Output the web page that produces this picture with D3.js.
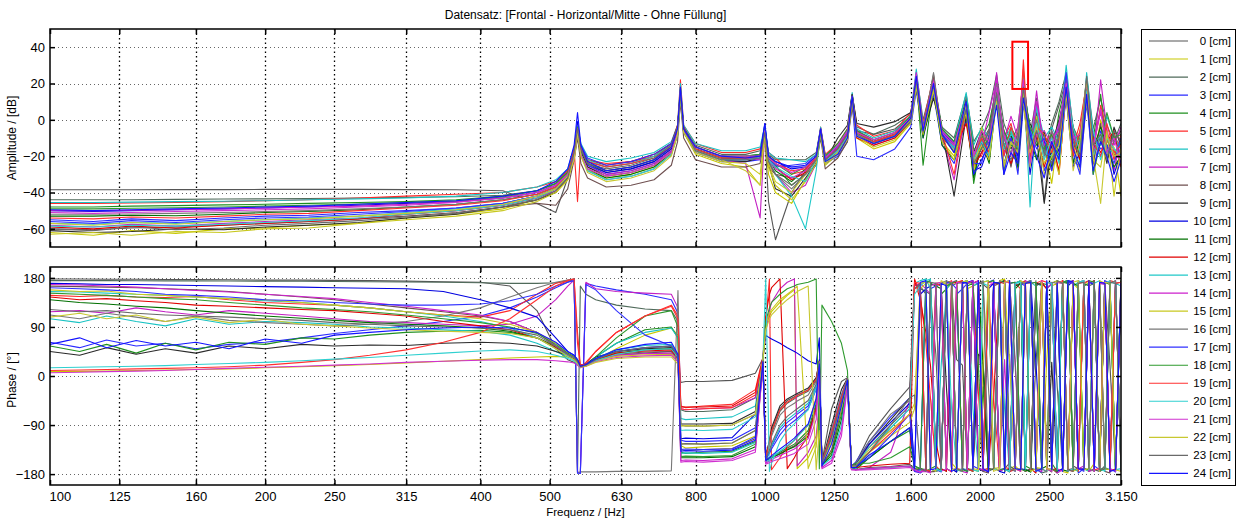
<!DOCTYPE html>
<html>
<head>
<meta charset="utf-8">
<script src="https://cdn.jsdelivr.net/npm/d3@7"></script>
<style>
    body { margin: 0; background: #fff; }
    text { font-family: "Liberation Sans", Arial, Helvetica, sans-serif; fill: #000; }
</style>
</head>
<body>
<div id="chart"></div>
<script>
// ---- labels / colours ----
const chartTitle = "Datensatz: [Frontal - Horizontal/Mitte - Ohne Füllung]";
const seriesLabels = ["0 [cm]","1 [cm]","2 [cm]","3 [cm]","4 [cm]","5 [cm]","6 [cm]","7 [cm]","8 [cm]","9 [cm]",
    "10 [cm]","11 [cm]","12 [cm]","13 [cm]","14 [cm]","15 [cm]","16 [cm]","17 [cm]","18 [cm]","19 [cm]",
    "20 [cm]","21 [cm]","22 [cm]","23 [cm]","24 [cm]"];
const seriesColors = ["#555555","#c8c800","#4f6a5a","#2a2aff","#1f8f1f","#ff2a2a","#19c3c3","#c31fc3","#6e4f4f","#2a2a2a",
    "#0000e0","#007000","#e00000","#20c8c8","#cc20cc","#c8c820","#777777","#3030ff","#2e9a2e","#ff3030",
    "#30d0d0","#d030d0","#c8c830","#6a6a6a","#1414ff"];

const xTicks = [100,125,160,200,250,315,400,500,630,800,1000,1250,1600,2000,2500,3150];
const xTickLabels = ["100","125","160","200","250","315","400","500","630","800","1000","1250","1.600","2000","2500","3.150"];
const ampTicks = [-60,-40,-20,0,20,40];
const phaseTicks = [-180,-90,0,90,180];
const highlightBox = [2220, 2335, 17, 43]; // f1, f2, dB low, dB high

// ---- amplitude (dB), frequency grid split in bands ----
const ampFreqLow = [100,115,130,150,175,200,230,270,315,370,430,480,510,530];
const ampFreqMid = [541,547,553,565,600,650,700,740,755,762,770];
const ampFreqHigh = [800,870,940,985,1000,1012,1035,1090,1140,1180,1197,1215,1265,1305,1325];
const ampFreqUpper = [1345,1420,1520,1600,1629,1665,1722,1770,1840,1913,1960];
const ampFreqTop = [2010,2060,2110,2160,2210,2260,2300,2350,2400,2460,2520,2580,2640,2700,2760,2820,2880,2950,3010,3080,3150];

const ampLow = [
    [-38.5,-38.5,-38.5,-38.4,-38.4,-38.3,-38.3,-38.3,-38.4,-38.5,-39,-46,-51,-32],
    [-62,-63.5,-61,-62.5,-60,-59.5,-58,-57,-54,-52,-49,-44,-40,-33],
    [-44,-44,-44,-43.8,-43.6,-43.5,-43.3,-43,-42.7,-42.3,-41.5,-39,-35,-28],
    [-55,-56,-54.5,-55.5,-54,-53,-52.5,-51,-50,-48.5,-46,-42,-38,-31],
    [-48,-48,-47.5,-47.2,-46.8,-46.5,-46,-45.5,-45,-44,-42,-39,-35,-29],
    [-46,-46,-45.8,-45.5,-45,-44.5,-44,-43,-42,-41,-40,-37,-34,-28],
    [-45.5,-45.5,-45.3,-45,-44.8,-44.5,-44,-43.5,-43,-42,-40,-37,-33,-27],
    [-58,-59,-57.5,-58.5,-57,-56,-55,-54,-52,-50,-47,-43,-39,-31],
    [-60,-60.5,-59.5,-59,-58,-57,-56,-54.5,-53,-51,-48,-46,-47,-38],
    [-61,-62,-61.5,-60,-60.5,-59,-58,-56.5,-54,-52,-48,-44,-40,-32],
    [-50,-50.5,-50,-49.5,-49,-48.5,-48,-47,-46,-45,-43,-40,-36,-30],
    [-53,-53,-52.5,-52.8,-52,-51,-50.5,-49.5,-48,-46.5,-44,-41,-37,-30],
    [-59,-60,-58.5,-59.5,-58,-57,-56,-54.5,-52,-50,-47,-43,-38,-31],
    [-57,-57.5,-56.5,-57,-56,-55,-54,-53,-51,-49,-46,-42,-38,-31],
    [-50,-50,-49.8,-49.5,-49,-48.6,-48,-47.5,-46.5,-45,-43,-40,-36,-30],
    [-63,-62,-63.5,-61.5,-62,-60,-59.5,-57,-55,-53,-50,-45,-40,-33],
    [-52,-52,-51.8,-51.5,-51,-50.5,-50,-49,-48,-46.5,-44,-41,-37,-30],
    [-56,-57,-55.5,-56.5,-55,-54,-53.5,-52,-50.5,-48.5,-46,-42,-38,-31],
    [-49,-49,-48.7,-48.4,-48,-47.5,-47,-46.3,-45.5,-44.5,-42.5,-39,-35,-29],
    [-54,-54.5,-53.5,-54,-53,-52,-51.5,-50,-48.5,-47,-44.5,-41,-37,-30],
    [-58.5,-59,-58,-58.5,-57.5,-56.5,-55.5,-54,-52,-50,-47,-43,-38,-31],
    [-51,-51.5,-51,-50.5,-50,-49.5,-49,-48,-47,-45.5,-43,-40,-36,-30],
    [-57,-58,-56.5,-57.5,-56,-55,-54.5,-53,-51.5,-49.5,-46.5,-42,-38,-31],
    [-60,-61,-59,-60.5,-59.5,-58,-57,-55.5,-53.5,-51.5,-48,-44,-39,-32],
    [-49.5,-50,-49.5,-49,-48.5,-48,-47.5,-46.5,-45.5,-44.5,-42,-39,-34,-27]
];
const ampMid = [
    [-18,-6,-16,-25,-29,-27,-23,-16,-6,16,-5],
    [-22,-9,-20,-28,-32,-30,-26,-19,-9,12,-7],
    [-17,-4,-15,-23,-26,-24,-20,-13,-4,18,-4],
    [-19,-2,-17,-25,-30,-28,-24,-17,-7,14,-6],
    [-18,-5,-17,-24,-28,-26,-22,-15,-5,17,-5],
    [-16,-45,-14,-22,-24,-23,-20,-14,-3,22,-3],
    [-15,-3,-13,-20,-23,-21,-18,-12,-3,20,-3],
    [-20,-7,-18,-26,-30,-28,-24,-17,-7,15,-6],
    [-22,-10,-24,-32,-37,-36,-33,-25,-12,10,-10],
    [-20,-6,-18,-26,-31,-29,-25,-18,-8,13,-7],
    [-18,-1,-16,-24,-29,-27,-23,-16,-6,16,-5],
    [-19,-5,-18,-27,-32,-30,-26,-18,-7,15,-6],
    [-17,-4,-15,-22,-25,-23,-19,-13,-3,14,-4],
    [-17,-3,-15,-22,-26,-24,-20,-14,-4,14,-5],
    [-18,-4,-16,-24,-28,-26,-22,-15,-5,16,-5],
    [-21,-8,-19,-27,-31,-29,-25,-18,-8,12,-7],
    [-20,-7,-19,-28,-33,-31,-27,-19,-8,15,-7],
    [-16,-3,-14,-21,-25,-23,-19,-13,-4,15,-5],
    [-18,-4,-16,-24,-28,-26,-22,-15,-5,17,-5],
    [-17,-5,-15,-23,-26,-24,-21,-15,-5,16,-5],
    [-20,-6,-19,-28,-33,-31,-27,-19,-8,14,-6],
    [-21,-6,-19,-27,-31,-29,-25,-18,-7,16,-6],
    [-22,-7,-20,-29,-34,-32,-28,-20,-8,15,-7],
    [-18,-5,-16,-24,-27,-25,-21,-14,-4,14,-5],
    [-14,4,-14,-23,-28,-26,-22,-15,-5,18,-5]
];
const ampHigh = [
    [-16,-21,-22,-20,-8,-45,-66,-40,-28,-20,-8,-22,-16,-8,12],
    [-19,-24,-26,-36,-10,-30,-40,-46,-33,-24,-9,-24,-18,-10,10],
    [-14,-19,-19,-17,-5,-19,-22,-22,-22,-18,-5,-20,-14,-6,14],
    [-18,-23,-23,-22,-4,-22,-26,-25,-24,-19,-6,-24,-20,-12,9],
    [-15,-20,-20,-19,-6,-21,-25,-36,-30,-21,-6,-21,-15,-7,13],
    [-13,-18,-18,-16,-5,-18,-21,-30,-28,-20,-4,-19,-13,-5,14],
    [-13,-17,-17,-15,-3,-18,-21,-22,-23,-19,-4,-20,-14,-6,15],
    [-17,-22,-24,-54,-6,-24,-30,-40,-36,-24,-7,-22,-16,-8,11],
    [-22,-26,-26,-24,-10,-26,-30,-32,-30,-25,-10,-27,-21,-12,7],
    [-17,-22,-23,-21,-7,-24,-38,-42,-32,-24,-8,-23,-10,-3,14],
    [-16,-21,-21,-19,-2,-20,-23,-27,-26,-20,-5,-21,-15,-7,13],
    [-16,-21,-21,-20,-6,-21,-28,-34,-27,-21,-6,-23,-18,-9,12],
    [-17,-22,-22,-21,-7,-22,-26,-33,-29,-22,-7,-22,-16,-8,12],
    [-17,-22,-22,-20,-6,-22,-30,-42,-60,-28,-7,-22,-16,-8,12],
    [-15,-20,-21,-22,-6,-22,-27,-32,-28,-21,-6,-21,-15,-7,13],
    [-18,-23,-24,-30,-8,-26,-36,-44,-34,-24,-8,-25,-19,-11,10],
    [-16,-21,-21,-20,-7,-23,-30,-38,-30,-22,-7,-22,-16,-8,12],
    [-17,-22,-22,-21,-5,-22,-25,-26,-26,-20,-6,-22,-17,-9,12],
    [-15,-20,-20,-19,-5,-20,-24,-30,-26,-20,-5,-20,-13,-5,13],
    [-16,-21,-21,-20,-6,-21,-24,-28,-27,-21,-6,-22,-16,-8,12],
    [-17,-22,-22,-21,-6,-22,-26,-31,-34,-22,-7,-23,-17,-9,12],
    [-15,-20,-20,-20,-6,-21,-24,-29,-26,-20,-5,-21,-14,-6,13],
    [-17,-22,-28,-36,-7,-24,-34,-40,-30,-22,-7,-24,-18,-10,12],
    [-17,-22,-22,-21,-7,-23,-30,-36,-30,-22,-7,-22,-16,-8,12],
    [-15,-20,-21,-20,-2,-20,-23,-26,-25,-20,-5,-23,-19,-10,13]
];
const ampUpper = [
    [-6,-8,-5,2,18,-4,16,-8,-14,12,-20],
    [-10,-16,-12,-2,20,-8,18,-12,-20,6,-30],
    [-4,-8,-3,3,26,0,22,-4,-10,14,-12],
    [-20,-22,-16,-4,16,-10,14,-14,-24,0,-26],
    [-6,-12,-8,1,24,-25,20,-5,-12,8,-35],
    [-3,-9,-6,4,22,-2,24,-10,-16,10,-22],
    [-5,-10,-6,2,28,-3,21,-6,-12,15,-14],
    [-9,-14,-10,-1,24,-6,22,-10,-33,6,-24],
    [-8,-12,-9,-1,20,-6,25,-8,-18,8,-26],
    [-2,-4,-1,4,18,-8,12,-6,-42,2,-18],
    [-7,-12,-8,2,22,-4,19,-7,-13,10,-28],
    [-7,-13,-9,0,23,-10,17,-14,-22,4,-32],
    [-10,-14,-10,-1,21,-7,18,-10,-16,-2,-26],
    [-8,-13,-9,0,22,-6,20,-9,-15,8,-20],
    [-6,-11,-7,1,26,-4,21,-6,-13,9,-18],
    [-9,-15,-11,-2,18,-8,16,-12,-22,4,-28],
    [-8,-12,-8,0,23,-6,26,-8,-14,9,-22],
    [-8,-13,-9,0,22,-6,19,-8,-16,8,-24],
    [-6,-11,-7,2,24,-4,20,-5,-12,10,-16],
    [-7,-12,-8,1,23,-5,20,-7,-30,8,-22],
    [-8,-13,-9,-1,22,-6,19,-9,-16,7,-22],
    [-7,-11,-7,1,25,-5,21,-7,-14,9,-20],
    [-8,-13,-9,0,21,-7,18,-9,-17,8,-24],
    [-8,-13,-9,-1,22,-7,19,-9,-18,6,-24],
    [-9,-13,-9,1,24,-6,20,-8,-18,10,-30]
];
const ampTop = [
    [-12,-5,20,-8,-25,-10,15,-15,5,-45,-5,8,22,-10,-20,18,-12,5,-8,-20,-10],
    [-8,-20,15,-30,-5,-28,10,-22,-2,-15,-35,-5,20,-18,-6,22,-25,0,-12,-15,-42],
    [-5,5,25,-2,-12,-4,22,-8,12,-18,-2,10,26,-4,-12,24,-5,12,-3,-12,-2],
    [-18,-12,12,-20,-8,-30,8,-10,-5,-28,-18,-2,15,-22,-26,12,-30,-6,-15,-8,-20],
    [-10,-2,18,-28,-4,-12,18,-6,-14,-8,-22,4,20,-8,-16,16,-10,14,-18,-6,-12],
    [-20,-8,16,-10,-2,-20,33,-25,0,-12,-8,-30,18,-15,-2,20,-18,8,-6,-22,-8],
    [-4,-10,22,-14,-6,-18,24,-48,8,-10,-4,-12,30,-6,-24,26,-8,-14,2,-10,-16],
    [-6,-14,26,-18,-10,-24,20,-16,16,-20,-6,-18,24,-10,-14,14,-22,22,-5,-28,-10],
    [-15,-6,18,-8,-26,-6,16,-20,4,-14,-28,-4,22,-16,-8,18,-24,-2,-22,-12,-6],
    [-6,-22,14,-6,-16,-8,12,-2,-10,-46,-14,0,16,-4,-20,10,-14,-10,-24,-4,-14],
    [-26,-14,10,-24,-12,-20,14,-30,-6,-12,-24,-16,12,-26,-18,8,-12,-20,-8,-30,-18],
    [-12,-24,12,-16,-8,-26,14,-10,-22,-6,-26,-12,16,-24,-10,10,-16,-4,-14,-26,-20],
    [-18,-10,8,-14,-24,-14,22,-14,-8,-26,-12,-28,14,-12,-22,16,-10,-18,-12,-6,-26],
    [-10,-16,18,-12,-4,-16,24,-10,6,-18,-20,-8,20,-14,-12,20,-20,-8,-16,-18,-12],
    [-14,4,22,-12,2,-10,18,-18,10,-14,-10,-6,24,-8,-16,22,-14,4,-10,-14,-4],
    [-4,-18,16,-24,-14,-6,10,-26,2,-24,-16,-30,18,-14,-28,10,-22,-26,-6,-42,-14],
    [-8,-14,20,-10,-18,-8,16,-12,0,-20,-6,-14,22,-6,-12,14,-18,-10,-20,-8,-16],
    [-24,-8,14,-30,-10,-22,20,-6,-16,-10,-28,-10,26,-18,-30,12,-8,-16,-14,-24,-10],
    [-16,-10,16,-6,-14,-16,18,-4,-12,-16,-8,-20,16,-6,-14,18,-30,-12,4,-10,-8],
    [-10,-18,12,-20,-4,-14,28,-20,-4,-8,-18,-10,18,-20,-6,14,-12,-20,-2,-18,-14],
    [-12,-20,14,-16,-8,-12,20,-14,-2,-22,-10,-24,16,-4,-18,16,-6,-22,-10,-16,-20],
    [-6,-12,18,-8,-20,-4,22,-24,-8,-6,-14,-2,20,-10,-8,20,-16,6,-18,-10,-24],
    [-14,-22,10,-26,-12,-18,16,-18,-4,-30,-20,-14,14,-28,-12,22,-20,-46,-8,-20,-18],
    [-16,-6,14,-14,-22,-12,18,-16,-6,-18,-24,-8,18,-12,-20,24,-14,-8,-22,-6,-12],
    [-22,-14,8,-30,-18,-24,12,-8,-20,-32,-12,-22,18,-16,-26,14,-28,-12,-20,-34,-22]
];

// ---- phase (deg), frequency grid split in bands ----
const phFreqLow = [100,110,120,132,145,160,178,200,225,250,280,315,355,400,440,480,510,530];
const phFreqMid = [541,547,552,562,580,620,680,740,756,763,775];
const phFreqHigh = [820,900,970,994, 1003,1015,1022,1050,1075,1100,1110,1150,1180,1192, 1202,1240,1280,1305,1322, 1340,1400,1500,1595];
const phFreqTop = [1620,1650,1680,1705,1735,1765,1795,1825,1855,1890,1920,1955,1990,2020,2055,2090,2130,2165,2200,2240,
    2280,2315,2355,2395,2440,2480,2520,2565,2610,2655,2700,2745,2795,2840,2890,2940,2990,3040,3095,3150];

const phLow = [
    [178,178,177.5,177.5,177,177,176.5,176,176,175.5,175,174,173,172,165,120,50,30],
    [8,8.5,9,10,11,12,13,15,17,19,21,24,27,30,33,35,36,35],
    [175,175,175,174.8,174.5,174.5,174.2,174,173.8,173.5,173,172.5,172,171,170,170,171,174],
    [62,52,66,55,60,50,58,62,70,78,85,92,100,110,125,145,162,172],
    [55,45,58,42,60,48,62,58,70,68,75,80,82,84,80,70,55,40],
    [148,146,148,145,144,146,140,135,132,130,125,118,112,108,120,150,170,176],
    [105,98,110,100,92,105,95,100,98,95,90,88,85,82,75,60,45,35],
    [118,120,115,125,118,112,120,115,110,105,100,98,95,92,95,110,140,165],
    [165,164,163,162,160,158,155,150,145,140,132,125,118,110,100,80,55,40],
    [45,38,52,40,50,42,55,50,58,55,57,56,60,62,60,55,45,38],
    [170,169,168,168,167,166,165,164,163,162,161,160,155,140,125,108,70,45],
    [140,135,132,128,125,120,115,110,106,102,98,95,92,88,82,70,52,40],
    [145,140,142,138,135,130,128,125,122,120,115,110,100,92,85,70,52,38],
    [155,154,152,150,148,145,142,138,135,130,125,118,110,100,88,70,50,38],
    [168,167,165,163,160,157,154,150,146,142,135,128,120,112,100,80,55,40],
    [158,155,156,150,148,145,142,140,135,130,125,118,112,105,95,80,60,42],
    [112,105,115,108,100,110,102,98,95,92,95,100,110,125,145,162,172,176],
    [162,160,158,155,150,148,145,140,138,135,132,130,130,132,138,150,165,172],
    [152,150,148,145,142,140,135,130,125,122,118,112,105,98,90,78,58,42],
    [10,11,12,13,14,15,17,20,25,30,38,48,62,80,105,140,165,175],
    [15,16,17,18,19,21,23,25,28,31,34,38,42,46,48,45,38,32],
    [6,7,8,9,10,12,14,16,18,20,22,25,27,29,30,30,28,26],
    [108,115,105,112,100,108,98,104,95,92,88,85,82,80,78,70,50,36],
    [122,118,120,115,112,110,108,105,102,98,95,92,90,88,85,75,55,40],
    [58,70,52,65,55,62,50,68,60,75,80,85,88,90,88,80,62,45]
];
const phMid = [
    [25,20,18,22,30,38,42,45,30,-12,-10],
    [33,25,16,18,30,50,75,88,75,-128,-132],
    [177,-178,165,150,140,130,123,120,100,-62,-65],
    [178,-178,-178,170,165,158,150,140,115,-118,-120],
    [35,28,18,20,35,60,85,90,70,-140,-142],
    [178,60,18,25,45,80,110,130,110,-55,-58],
    [30,22,16,20,35,60,80,88,70,-78,-80],
    [176,-176,-178,172,160,155,152,150,125,-60,-62],
    [35,28,20,22,30,40,44,45,30,-135,-137],
    [32,25,17,22,35,45,50,52,35,-88,-88],
    [38,30,20,22,32,45,52,55,35,-115,-114],
    [35,27,18,20,30,42,48,50,32,-150,-150],
    [33,25,18,21,30,42,46,48,32,-57,-57],
    [33,25,17,20,32,48,56,58,38,-142,-141],
    [34,26,17,19,28,38,41,42,30,-155,-154],
    [35,26,17,19,28,36,39,40,28,-125,-124],
    [178,-177,-176,-176,-176,-175,-175,-174,157,-90,-92],
    [175,-178,-179,168,158,120,75,55,38,-135,-134],
    [36,27,17,20,35,70,110,120,90,-148,-147],
    [178,80,20,22,45,80,110,128,105,-60,-62],
    [28,22,16,19,28,40,48,50,34,-100,-99],
    [24,20,15,18,26,34,37,38,26,-158,-157],
    [30,23,16,18,25,32,35,35,22,-92,-91],
    [34,26,17,20,30,45,52,55,36,-125,-124],
    [38,30,18,21,32,48,58,62,40,-138,-137]
];
const phHigh = [
    [-10,-8,5,32, -145,-120,-100,-60,-45,-38,-35,-25,-5,28, -158,-60,-10,-3,-168, -160,-110,-60,-20],
    [-130,-128,-110,30, 90,110,118,135,148,158,-170,-150,-120,-60, -160,-140,-60,-8,-168, -172,-170,-168,-165],
    [-65,-62,-40,30, -150,-125,-105,-65,-50,-42,-38,-28,-8,26, -162,-120,-50,-6,-165, -160,-130,-90,-55],
    [-120,-118,-95,28, -155,-140,-130,-100,-85,-75,-70,-55,-20,30, -160,-100,-35,-5,-165, -158,-120,-75,-40],
    [-140,-138,-120,25, -152,-150,-148,-140,-132,-125,-120,-100,-50,22, -165,-140,-70,-8,-170, -172,-150,-120,-100],
    [-55,-52,-25,35, 100,178,-172,-150,-130,-118,-110,-90,-40,22, -158,-115,-45,-5,-165, -160,-130,-100,-70],
    [-78,-75,-55,32, -148,-138,-128,-95,-80,-70,-66,-50,-18,27, -162,-115,-40,-4,-168, -170,-140,-95,-60],
    [-60,-58,-40,30, 80,120,135,160,172,178,-165,-140,-110,-50, -162,-100,-40,-5,-168, -172,-168,-140,-45],
    [-135,-133,-115,26, -155,-152,-150,-142,-135,-128,-124,-105,-55,24, -165,-135,-60,-8,-170, -172,-168,-166,-162],
    [-88,-87,-65,30, -150,-118,-95,-55,-42,-35,-32,-22,-3,28, -160,-90,-25,-4,-165, -162,-125,-80,-40],
    [-115,-113,-70,35, 75,70,68,60,52,45,42,28,22,70, -160,-115,-50,-6,-168, -160,-125,-85,-50],
    [-150,-148,-130,22, -155,-152,-150,-143,-136,-130,-126,-110,-60,20, -165,-145,-80,-10,-170, -168,-150,-120,-95],
    [-57,-55,-30,32, 110,150,162,178,-170,-150,-140,-110,-60,15, -160,-120,-45,-5,-165, -168,-165,-162,-160],
    [-142,-140,-122,25, -158,-154,-150,-138,-128,-118,-112,-90,-45,18, -165,-150,-90,-12,-170, -172,-170,-168,-165],
    [-155,-152,-135,20, -160,-156,-153,-146,-140,-134,-130,-115,-65,16, -168,-155,-100,-15,-172, -172,-170,-167,-165],
    [-125,-123,-100,28, 95,115,122,140,150,160,165,-170,-130,-55, -162,-120,-55,-8,-168, -166,-140,-110,-85],
    [-92,-90,-70,30, -150,-128,-110,-72,-58,-50,-46,-35,-10,27, -160,-100,-35,-4,-167, -160,-120,-70,-45],
    [-135,-134,-112,28, -152,-142,-134,-108,-92,-82,-78,-60,-25,25, -160,-110,-40,-5,-168, -165,-150,-110,-70],
    [-148,-146,-125,25, 100,125,135,150,160,165,168,172,178,-170, 130,100,60,10,-165, -160,-160,-150,-130],
    [-60,-58,-35,32, -150,-122,-102,-62,-48,-40,-36,-26,-6,26, -158,-105,-40,-5,-165, -165,-140,-105,-70],
    [-100,-98,-75,30, 178,-175,-160,-120,-100,-88,-82,-62,-22,24, -162,-118,-52,-6,-166, -165,-130,-95,-60],
    [-158,-155,-140,20, -162,-159,-157,-152,-147,-142,-138,-125,-80,14, -170,-160,-110,-18,-172, -173,-172,-170,-168],
    [-92,-90,-70,30, 85,105,112,128,140,150,155,165,-172,-100, -162,-120,-60,-10,-166, -165,-135,-100,-70],
    [-125,-123,-100,28, -152,-136,-124,-90,-74,-64,-60,-45,-15,24, -160,-112,-48,-5,-165, -165,-140,-90,-40],
    [-138,-136,-118,26, -155,-150,-146,-134,-124,-114,-108,-88,-42,22, -165,-125,-55,-8,-168, -168,-145,-120,-95]
];
const phTop = [
    [170,165,150,-170,-175,-172,165,170,30,20, -170,-175,172,168,160,-168,-175,-170,-160,170, 175,-175,-170,25,170,160,-170,-178,175,170, -165,-170,170,165,-172,-175,170,20,-170,175],
    [-170,-172,-175,-175,170,172,168,-160,-170,-175, 160,165,170,-20,-170,-172,175,178,-170,-165, -175,170,172,-168,-170,30,165,170,-175,-178, 170,160,-170,-175,-160,175,170,-170,-175,165],
    [172,160,155,150,40,-170,-175,165,170,172, -170,-172,20,25,-175,-170,170,175,-165,-172, 168,172,175,-170,-178,-175,170,-20,-170,172, 175,-170,-172,165,170,-175,-165,170,175,-170],
    [-175,-178,-170,160,165,170,-170,-175,150,160, 170,-165,-170,-175,172,176,-172,-170,40,-175, 170,165,-170,-172,-176,160,170,-175,-170,175, 172,-178,-170,168,-165,-172,175,170,-170,160],
    [-172,-170,-175,-170,-165,150,160,170,-170,-175, 165,170,-170,-20,-175,170,172,-170,-176,170, 175,-165,-170,-172,170,168,-160,-175,172,170, -170,-175,165,170,175,-170,-172,165,-175,170],
    [178,150,60,-40,-165,-175,170,175,-170,-172, 170,175,-30,-172,-175,168,172,-168,-170,170, 160,-175,-170,170,175,172,-170,-176,165,-172, -175,170,172,-170,170,-175,-170,175,172,-168],
    [170,175,178,-170,-175,20,160,172,-175,-170, -172,165,170,-170,-175,172,170,-60,-175,170, 172,-170,-176,170,165,-172,-170,175,170,-175, 165,172,-170,-175,170,175,-168,-172,170,165],
    [165,170,160,150,-170,-175,170,172,-172,-175, -178,170,175,-170,165,170,-175,-170,172,20, -170,-175,170,172,-170,160,170,-178,-172,170, 175,-170,-165,172,-175,170,168,-170,-175,172],
    [-170,-172,-175,-176,-175,-170,165,170,-170,-175, 170,172,-168,-175,-178,165,170,175,-172,-170, 170,-175,-170,165,172,-170,-176,172,170,-172, -170,172,175,-175,-170,170,-175,-178,170,172],
    [160,170,-172,-175,170,165,-20,-170,-176,172, 175,-170,40,30,-172,172,170,-175,-170,165, 170,-172,-175,170,168,-170,25,-175,172,175, -172,-170,170,175,-175,165,-170,-172,170,-175],
    [-170,150,160,165,-172,-175,170,-170,-176,170, 172,175,-170,-172,160,170,-175,-178,170,172, -170,-172,175,25,-170,172,170,-175,-170,165, 175,-172,-170,172,168,-175,170,-170,172,-175],
    [-165,-170,-172,170,165,160,-170,-175,170,175, -170,-175,170,20,-170,-172,172,175,-175,160, 170,-172,-176,172,-170,-165,170,175,-172,-175, 170,165,-170,-172,175,-170,172,168,-170,175],
    [176,140,80,20,-120,-170,-175,170,172,-170, -175,170,175,-172,-170,-40,172,170,-175,-172, 170,175,-170,-178,172,160,-172,-170,175,-175, 170,-170,-172,170,175,-170,172,-175,-170,170],
    [-172,-175,178,160,-175,-170,172,170,-172,-175, 170,-60,-170,172,175,-170,-172,172,-175,170, 175,-172,172,165,-170,-175,170,-170,172,175, -170,-175,170,-172,172,-170,170,175,-172,-170],
    [-175,-176,-170,165,170,-175,-170,172,175,-172, 170,175,-170,-172,172,170,-170,30,-175,172, -170,175,170,-172,-175,172,170,-170,-175,170, 172,-170,175,-175,-172,170,172,-170,175,-175],
    [-60,160,170,172,-170,-175,165,172,-170,-175, 170,-172,-175,172,175,-170,-168,170,30,-172, 175,170,-175,-170,172,-172,170,175,-170,172, -175,-170,172,170,-172,175,-170,-172,168,-170],
    [160,170,172,-170,-175,170,175,-172,-170,172, -175,-170,170,172,-20,-172,175,170,-170,-175, 172,170,-172,175,-170,-176,172,170,-175,170, -172,175,170,-170,-175,172,-170,170,175,-172],
    [-175,-172,170,175,-170,-176,172,170,160,-170, -175,172,170,-172,-175,170,-170,172,175,-172, -170,170,175,-175,-170,172,-172,170,-175,172, 170,-170,-175,172,170,-172,175,-170,-176,172],
    [-165,-170,172,175,-170,-172,165,170,175,-172, -175,170,20,-170,172,175,-172,-170,170,172, -170,-175,170,172,-172,170,-170,-175,172,175, -172,170,-170,175,172,-175,-170,170,-172,175],
    [172,170,-172,-175,170,165,-170,-176,172,175, -170,-175,170,-172,172,-40,-172,175,170,-170, -175,172,170,-172,175,-170,-172,170,175,-170, 172,-175,170,175,-172,-170,172,-175,170,172],
    [150,165,175,178,-170,-175,170,-60,-170,172, 175,-172,-175,170,165,-170,172,-172,-175,170, 172,-170,175,-175,-170,172,170,-172,170,-175, -170,172,175,-172,170,-170,-175,172,170,-172],
    [-172,-176,-175,-178,170,172,-170,-175,172,170, -172,170,175,-170,-175,172,-172,170,175,-170, -175,172,170,-172,175,-170,-175,172,170,-172, 175,-170,-172,170,-175,172,170,-170,-175,172],
    [-50,170,172,-170,-175,175,170,-172,-170,172, 175,-170,-172,20,170,-175,-170,172,175,-172, -170,172,170,-175,172,-170,-172,175,170,-170, 172,175,-172,-170,170,-175,172,170,-172,-175],
    [-35,-170,-175,172,170,-172,175,170,-170,-175, 172,-170,170,175,-172,-170,172,-175,170,30, -172,170,175,-170,-172,172,-170,175,170,-172, -175,170,172,-170,175,-172,-170,172,170,-175],
    [-170,172,175,-172,-170,170,165,-175,-170,172, 170,-172,175,-170,-176,172,170,-172,175,-170, -172,170,172,-175,-170,175,-172,170,-170,175, 172,-170,-172,175,-170,172,170,-175,-172,170]
];

// ---- layout ----
const width = 1237, height = 519;
const plotLeft = 50, plotRight = 1121;
const ampTopY = 29, ampBottomY = 247, phTopY = 267, phBottomY = 485;

const svg = d3.select("#chart").append("svg")
    .attr("width", width)
    .attr("height", height);

const x = d3.scaleLog().domain([100, 3150]).range([plotLeft, plotRight]);
const yAmp = d3.scaleLinear().domain([-70, 50]).range([ampBottomY, ampTopY]);
const yPh = d3.scaleLinear().domain([-200, 200]).range([phBottomY, phTopY]);

// build series
const ampFreq = [...ampFreqLow, ...ampFreqMid, ...ampFreqHigh, ...ampFreqUpper, ...ampFreqTop];
const phFreq = [...phFreqLow, ...phFreqMid, ...phFreqHigh, ...phFreqTop];
let problems = [];
const ampSeries = seriesLabels.map((_, i) => {
    const v = [...ampLow[i], ...ampMid[i], ...ampHigh[i], ...ampUpper[i], ...ampTop[i]];
    if (v.length !== ampFreq.length) problems.push("amp " + i + ": " + v.length);
    return ampFreq.map((f, k) => [f, v[k]]).filter(d => d[1] !== undefined);
});
const phSeries = seriesLabels.map((_, i) => {
    const v = [...phLow[i], ...phMid[i], ...phHigh[i], ...phTop[i]];
    if (v.length !== phFreq.length) problems.push("ph " + i + ": " + v.length);
    return phFreq.map((f, k) => [f, v[k]]).filter(d => d[1] !== undefined);
});

// title
svg.append("text")
    .attr("x", (plotLeft + plotRight) / 2)
    .attr("y", 19)
    .attr("text-anchor", "middle")
    .style("font-size", "12px")
    .text(chartTitle);

function drawPanel(yScale, top, bottom, yTicks, series, clipId, showXLabels) {
    const g = svg.append("g");

    // grid
    g.append("g").selectAll("line")
        .data(xTicks.slice(1, -1))
        .enter().append("line")
        .attr("x1", d => Math.round(x(d)) + 0.5)
        .attr("x2", d => Math.round(x(d)) + 0.5)
        .attr("y1", top).attr("y2", bottom)
        .attr("stroke", "#000")
        .attr("stroke-width", 1.3)
        .attr("stroke-dasharray", "1.5,3");
    g.append("g").selectAll("line")
        .data(yTicks)
        .enter().append("line")
        .attr("x1", plotLeft).attr("x2", plotRight)
        .attr("y1", d => Math.round(yScale(d)) + 0.5)
        .attr("y2", d => Math.round(yScale(d)) + 0.5)
        .attr("stroke", "#666")
        .attr("stroke-width", 1)
        .attr("stroke-dasharray", "1,3");

    // lines
    svg.append("clipPath").attr("id", clipId)
        .append("rect")
        .attr("x", plotLeft).attr("y", top)
        .attr("width", plotRight - plotLeft).attr("height", bottom - top);
    const line = d3.line().x(d => x(d[0])).y(d => yScale(d[1]));
    g.append("g").attr("clip-path", "url(#" + clipId + ")")
        .selectAll("path")
        .data(series)
        .enter().append("path")
        .attr("d", line)
        .attr("fill", "none")
        .attr("stroke", (d, i) => seriesColors[i])
        .attr("stroke-width", 1.1)
        .attr("stroke-linejoin", "round");

    // axes (ticks inside)
    const bottomAxis = d3.axisBottom(x).tickValues(xTicks).tickSize(-5).tickPadding(7)
        .tickFormat((d, i) => showXLabels ? xTickLabels[i] : "");
    const ab = g.append("g").attr("transform", "translate(0," + bottom + ")").call(bottomAxis);
    g.append("g").attr("transform", "translate(0," + top + ")")
        .call(d3.axisTop(x).tickValues(xTicks).tickSize(-5).tickFormat(""));
    g.append("g").attr("transform", "translate(" + plotLeft + ",0)")
        .call(d3.axisLeft(yScale).tickValues(yTicks).tickSize(-5).tickPadding(5));
    g.append("g").attr("transform", "translate(" + plotRight + ",0)")
        .call(d3.axisRight(yScale).tickValues(yTicks).tickSize(-5).tickFormat(""));
    g.selectAll(".domain").remove();
    g.selectAll(".tick line").attr("stroke", "#000").attr("stroke-width", 1.5);
    g.selectAll(".tick text")
        .attr("font-family", "'Liberation Sans', Arial, sans-serif")
        .attr("font-size", 13)
        .attr("fill", "#000");
    if (showXLabels) {
        ab.select(".tick text").attr("text-anchor", "start").attr("x", -1);
    }

    // frame
    g.append("rect")
        .attr("x", plotLeft).attr("y", top)
        .attr("width", plotRight - plotLeft).attr("height", bottom - top)
        .attr("fill", "none")
        .attr("stroke", "#000")
        .attr("stroke-width", 1.5);
    return g;
}

drawPanel(yAmp, ampTopY, ampBottomY, ampTicks, ampSeries, "clipAmp", false);
drawPanel(yPh, phTopY, phBottomY, phaseTicks, phSeries, "clipPh", true);

// highlight box
svg.append("rect")
    .attr("x", x(highlightBox[0]))
    .attr("y", yAmp(highlightBox[3]))
    .attr("width", x(highlightBox[1]) - x(highlightBox[0]))
    .attr("height", yAmp(highlightBox[2]) - yAmp(highlightBox[3]))
    .attr("fill", "none")
    .attr("stroke", "#ff0000")
    .attr("stroke-width", 2);

// axis labels
svg.append("text")
    .attr("transform", "translate(16," + (ampTopY + ampBottomY) / 2 + ") rotate(-90)")
    .attr("text-anchor", "middle")
    .style("font-size", "12px")
    .text("Amplitude / [dB]");
svg.append("text")
    .attr("transform", "translate(16," + ((phTopY + phBottomY) / 2 + 4) + ") rotate(-90)")
    .attr("text-anchor", "middle")
    .style("font-size", "12px")
    .text("Phase / [°]");
svg.append("text")
    .attr("x", (plotLeft + plotRight) / 2)
    .attr("y", 516)
    .attr("text-anchor", "middle")
    .style("font-size", "11.5px")
    .text("Frequenz / [Hz]");

// legend
const legendY = d3.scaleLinear().domain([0, seriesLabels.length - 1]).range([41, 473.3]);
const legend = svg.append("g");
legend.append("rect")
    .attr("x", 1141.5).attr("y", 29.5)
    .attr("width", 94).attr("height", 456)
    .attr("fill", "#fff")
    .attr("stroke", "#000")
    .attr("stroke-width", 1);
const items = legend.selectAll("g.item")
    .data(seriesLabels)
    .enter().append("g")
    .attr("class", "item")
    .attr("transform", (d, i) => "translate(0," + legendY(i) + ")");
items.append("line")
    .attr("x1", 1149).attr("x2", 1188)
    .attr("y1", 0).attr("y2", 0)
    .attr("stroke", (d, i) => seriesColors[i])
    .attr("stroke-width", 1.2);
items.append("text")
    .attr("x", 1231)
    .attr("y", 4)
    .attr("text-anchor", "end")
    .style("font-size", "11.5px")
    .text(d => d);

if (problems.length) {
    svg.append("text").attr("x", 60).attr("y", 60).attr("fill", "red")
        .style("font-size", "14px").text("LENGTH: " + problems.join(" | "));
}
</script>
</body>
</html>
